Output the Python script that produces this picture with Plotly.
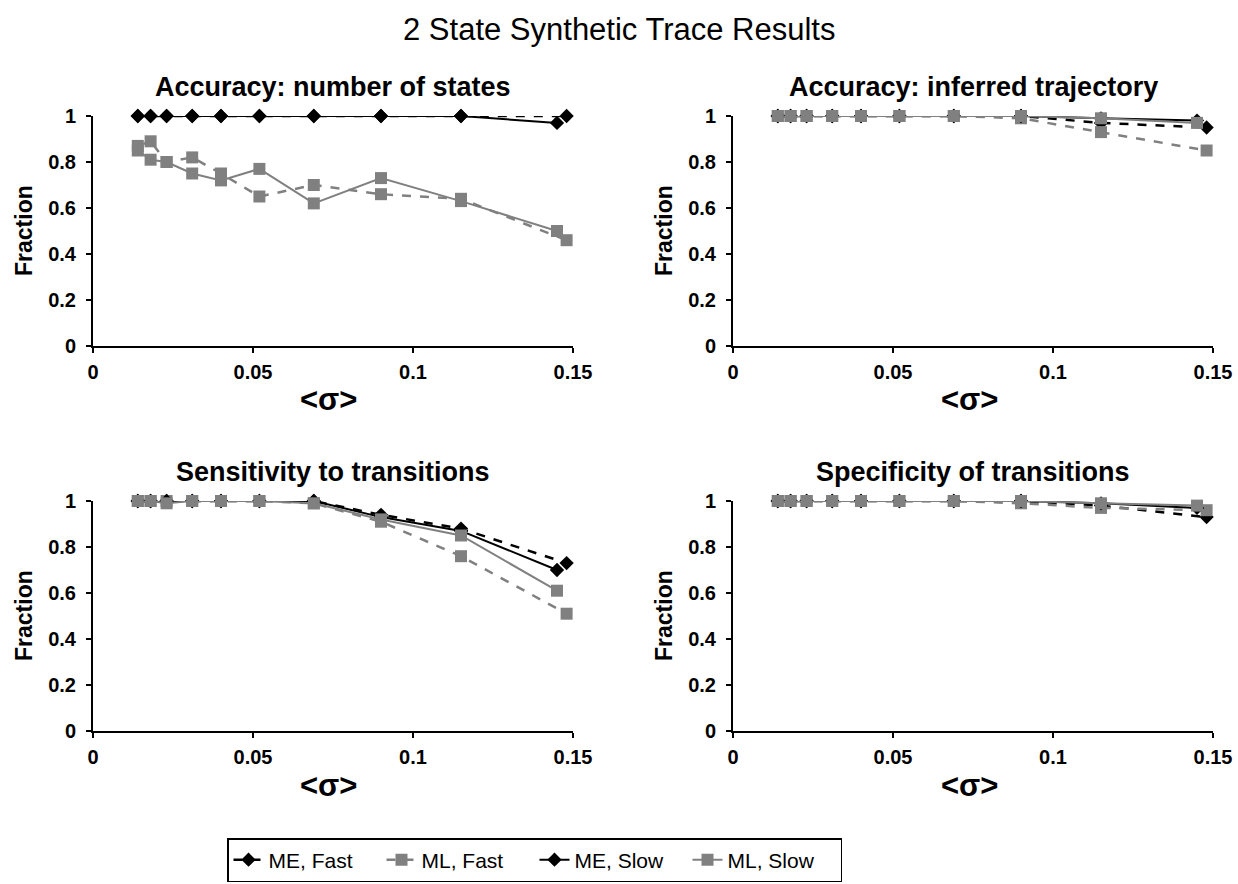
import plotly.graph_objects as go

# ---- data ----
sigma_fast = [0.014, 0.018, 0.023, 0.031, 0.040, 0.052, 0.069, 0.090, 0.115, 0.148]
sigma_slow = [0.014, 0.018, 0.023, 0.031, 0.040, 0.052, 0.069, 0.090, 0.115, 0.145]

series_names = ["ME, Fast", "ML, Fast", "ME, Slow", "ML, Slow"]
panel_titles = ["Accuracy: number of states", "Accuracy: inferred trajectory",
                "Sensitivity to transitions", "Specificity of transitions"]

# Accuracy: number of states
acc_states_me_fast = [1, 1, 1, 1, 1, 1, 1, 1, 1, 1.0]
acc_states_ml_fast = [0.87, 0.89, 0.80, 0.82, 0.75, 0.65, 0.70, 0.66, 0.64, 0.46]
acc_states_me_slow = [1, 1, 1, 1, 1, 1, 1, 1, 1, 0.97]
acc_states_ml_slow = [0.85, 0.81, 0.80, 0.75, 0.72, 0.77, 0.62, 0.73, 0.63, 0.50]

# Accuracy: inferred trajectory
acc_traj_me_fast = [1, 1, 1, 1, 1, 1, 1, 1.0, 0.97, 0.95]
acc_traj_ml_fast = [1, 1, 1, 1, 1, 1, 1, 0.99, 0.93, 0.85]
acc_traj_me_slow = [1, 1, 1, 1, 1, 1, 1, 1.0, 0.99, 0.98]
acc_traj_ml_slow = [1, 1, 1, 1, 1, 1, 1, 1.0, 0.99, 0.97]

# Sensitivity to transitions
sens_me_fast = [1, 1, 1, 1, 1, 1, 1.0, 0.94, 0.88, 0.73]
sens_ml_fast = [1, 1, 1, 1, 1, 1, 0.99, 0.91, 0.76, 0.51]
sens_me_slow = [1, 1, 1, 1, 1, 1, 1.0, 0.93, 0.87, 0.70]
sens_ml_slow = [1, 1, 0.99, 1, 1, 1, 0.99, 0.92, 0.85, 0.61]

# Specificity of transitions
spec_me_fast = [1, 1, 1, 1, 1, 1, 1, 1.0, 0.98, 0.93]
spec_ml_fast = [1, 1, 1, 1, 1, 1, 1, 0.99, 0.97, 0.96]
spec_me_slow = [1, 1, 1, 1, 1, 1, 1, 1.0, 0.99, 0.97]
spec_ml_slow = [1, 1, 1, 1, 1, 1, 1, 1.0, 0.99, 0.98]

panels = [
    [acc_states_me_fast, acc_states_ml_fast, acc_states_me_slow, acc_states_ml_slow],
    [acc_traj_me_fast, acc_traj_ml_fast, acc_traj_me_slow, acc_traj_ml_slow],
    [sens_me_fast, sens_ml_fast, sens_me_slow, sens_ml_slow],
    [spec_me_fast, spec_ml_fast, spec_me_slow, spec_ml_slow],
]

x_ticks = [0, 0.05, 0.1, 0.15]
x_ticklabels = ["0", "0.05", "0.1", "0.15"]
y_ticks = [0, 0.2, 0.4, 0.6, 0.8, 1]
y_ticklabels = ["0", "0.2", "0.4", "0.6", "0.8", "1"]

# ---- styling ----
W, H = 1238, 884
FONT = "Arial, Liberation Sans, sans-serif"
GRAY = "#808080"
styles = [
    dict(color="black", dash="dash", symbol="diamond", msize=11, width=2.5),
    dict(color=GRAY, dash="dash", symbol="square", msize=12, width=2.5),
    dict(color="black", dash="solid", symbol="diamond", msize=11, width=2),
    dict(color=GRAY, dash="solid", symbol="square", msize=12, width=2),
]
xs_for = [sigma_fast, sigma_fast, sigma_slow, sigma_slow]

# pixel boxes (left, right, top, bottom)
boxes = [(93, 573, 116, 346), (733, 1213, 116, 346),
         (93, 573, 501, 731), (733, 1213, 501, 731)]

fig = go.Figure()
for p in range(4):
    ax = "" if p == 0 else str(p + 1)
    for s in range(4):
        st = styles[s]
        fig.add_trace(go.Scatter(
            x=xs_for[s], y=panels[p][s], mode="lines+markers",
            name=series_names[s], legendgroup=series_names[s],
            showlegend=(p == 0),
            line=dict(color=st["color"], dash=st["dash"], width=st["width"]),
            marker=dict(symbol=st["symbol"], size=st["msize"], color=st["color"]),
            xaxis="x" + ax, yaxis="y" + ax, cliponaxis=False,
        ))

layout = dict(
    width=W, height=H, margin=dict(l=0, r=0, t=0, b=0, autoexpand=False),
    paper_bgcolor="white", plot_bgcolor="white",
    font=dict(family=FONT, color="black"),
    showlegend=True,
    legend=dict(orientation="h", x=227 / W, xanchor="left", y=1 - 838 / H, yanchor="top",
                bordercolor="black", borderwidth=1.5, bgcolor="white",
                entrywidth=108, entrywidthmode="pixels",
                font=dict(size=21, family=FONT), traceorder="normal"),
)
annotations = [dict(text="2 State Synthetic Trace Results", x=0.5, y=1 - 30 / H,
                    xref="paper", yref="paper", showarrow=False,
                    font=dict(size=31, family=FONT), xanchor="center", yanchor="middle")]
for p, (l, r, t, b) in enumerate(boxes):
    ax = "" if p == 0 else str(p + 1)
    layout["xaxis" + ax] = dict(
        domain=[l / W, r / W], anchor="y" + ax, range=[0, 0.15],
        tickvals=x_ticks, ticktext=x_ticklabels, showline=True, linecolor="black",
        linewidth=2, ticks="outside", ticklen=5, tickwidth=2, tickcolor="black",
        showgrid=False, zeroline=False, ticklabelstandoff=2, automargin=False,
        tickfont=dict(size=20, family=FONT, weight="bold"))
    layout["yaxis" + ax] = dict(
        domain=[1 - b / H, 1 - t / H], anchor="x" + ax, range=[0, 1],
        tickvals=y_ticks, ticktext=y_ticklabels, showline=True, linecolor="black",
        linewidth=2, ticks="outside", ticklen=5, tickwidth=2, tickcolor="black",
        showgrid=False, zeroline=False, ticklabelstandoff=6, automargin=False,
        tickfont=dict(size=20, family=FONT, weight="bold"))
    cx = (l + r) / 2 / W
    annotations.append(dict(text="<b>" + panel_titles[p] + "</b>", x=cx, y=1 - (t - 29) / H,
                            xref="paper", yref="paper", showarrow=False,
                            font=dict(size=27, family=FONT), xanchor="center", yanchor="middle"))
    annotations.append(dict(text="<b>Fraction</b>", x=(l - 69) / W, y=1 - (t + b) / 2 / H,
                            xref="paper", yref="paper", showarrow=False, textangle=-90,
                            font=dict(size=23, family=FONT), xanchor="center", yanchor="middle"))
    annotations.append(dict(text="<b>&lt;σ&gt;</b>", x=cx - 4 / W, y=1 - (b + 54) / H,
                            xref="paper", yref="paper", showarrow=False,
                            font=dict(size=31, family=FONT), xanchor="center", yanchor="middle"))
layout["annotations"] = annotations
fig.update_layout(**layout)
fig.write_html("out.html")
